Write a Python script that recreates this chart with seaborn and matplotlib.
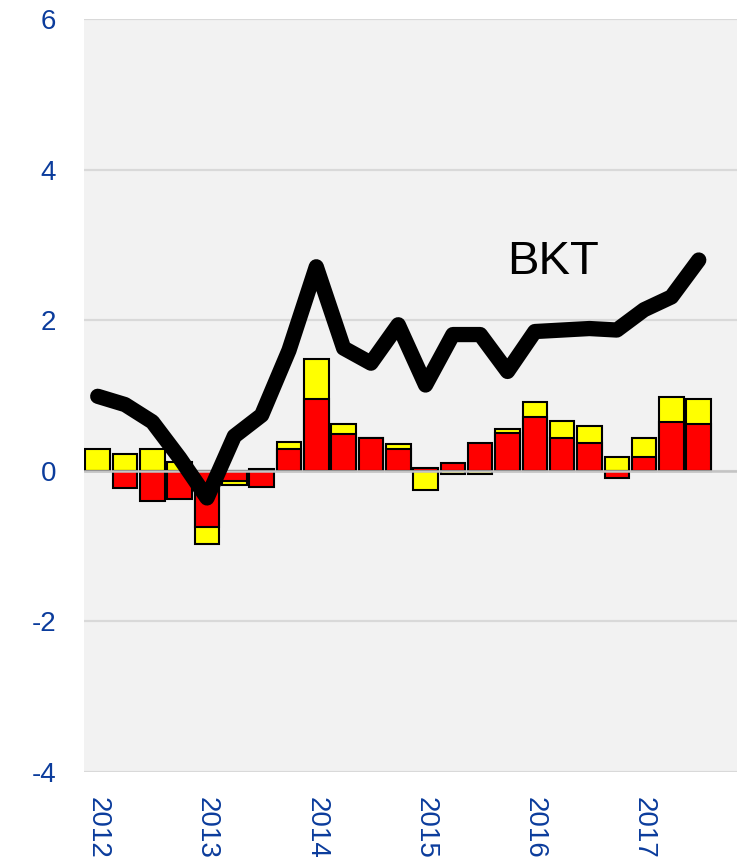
import numpy as np
import pandas as pd
import matplotlib
matplotlib.use("Agg")
import matplotlib.pyplot as plt
import seaborn as sns

quarters = [f"{y}Q{q}" for y in range(2012, 2018) for q in range(1, 5)][:23]
red = [0.00, -0.23, -0.40, -0.37, -0.75, -0.13, -0.22, 0.29, 0.96, 0.49, 0.43, 0.29,
       0.04, 0.10, 0.37, 0.50, 0.71, 0.44, 0.37, -0.10, 0.19, 0.65, 0.62]
yellow = [0.29, 0.22, 0.29, 0.12, -0.22, -0.06, 0.02, 0.09, 0.53, 0.13, 0.01, 0.06,
          -0.25, -0.04, -0.04, 0.06, 0.21, 0.22, 0.23, 0.18, 0.24, 0.33, 0.34]
bkt = [0.99, 0.88, 0.65, 0.17, -0.36, 0.46, 0.74, 1.60, 2.71, 1.63, 1.43, 1.94,
       1.14, 1.81, 1.81, 1.32, 1.85, 1.87, 1.89, 1.87, 2.14, 2.31, 2.80]
year_labels = ["2012", "2013", "2014", "2015", "2016", "2017"]

sns.set_theme(style="white")
plt.rcParams["font.family"] = ["Liberation Sans", "DejaVu Sans"]

df = pd.DataFrame({"quarter": quarters, "red": red, "yellow": yellow})
# yellow stacks on red when both share a sign, otherwise it starts at zero
same = np.sign(df.red) == np.sign(df.yellow)
df["yellow_top"] = np.where(same, df.red + df.yellow, df.yellow)

fig = plt.figure(figsize=(7.44, 8.66), dpi=100)
ax = fig.add_axes([0.113, 0.1085, 0.8776, 0.8695])
ax.set_facecolor("#f2f2f2")

sns.barplot(data=df, x="quarter", y="yellow_top", color="#ffff00", saturation=1,
            edgecolor="black", linewidth=1.5, width=0.9, ax=ax, zorder=2)
sns.barplot(data=df, x="quarter", y="red", color="#ff0000", saturation=1,
            edgecolor="black", linewidth=1.5, width=0.9, ax=ax, zorder=2)
ax.axhline(0, color="#c4c4c4", lw=1.8, zorder=3)
sns.lineplot(x=np.arange(len(bkt)), y=bkt, color="black", lw=11,
             solid_capstyle="round", solid_joinstyle="round", ax=ax, zorder=4)
ax.text(16.65, 2.77, "BKT", fontsize=34, ha="center", va="center", color="black")

ax.set_ylim(-4, 6)
ax.set_xlim(-0.5, 23.4)
ax.set_yticks(range(-4, 7, 2))
ax.set_yticklabels([str(v) for v in range(-4, 7, 2)])
ax.set_xticks(range(0, 24, 4))
ax.set_xticklabels(year_labels, rotation=270)
ax.yaxis.grid(True, color="#d9d9d9", lw=1.6, zorder=0)
ax.set_axisbelow(True)
ax.tick_params(axis="y", length=0, pad=20, labelsize=20, labelcolor="#0b3c9c")
ax.tick_params(axis="x", length=0, pad=18, labelsize=20, labelcolor="#0b3c9c")
ax.set_xlabel("")
ax.set_ylabel("")
for s in ax.spines.values():
    s.set_visible(False)

fig.savefig("out.png", dpi=100)
